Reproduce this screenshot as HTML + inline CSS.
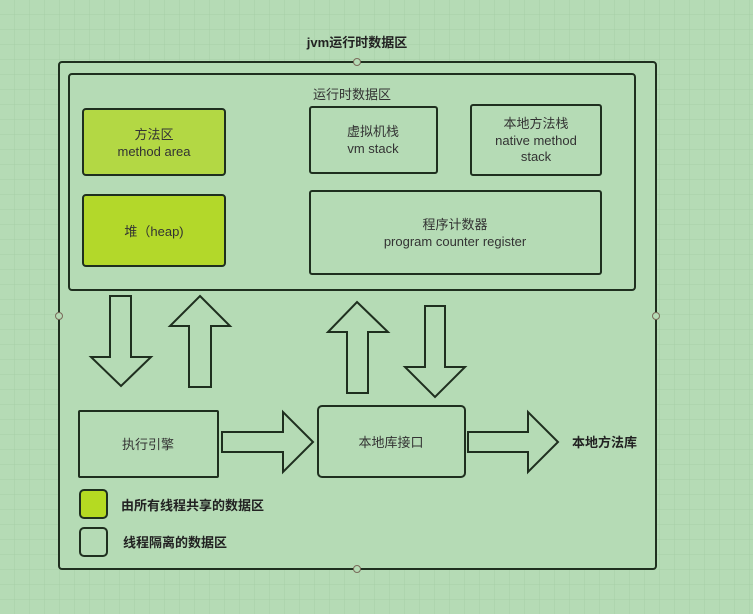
<!DOCTYPE html>
<html><head><meta charset="utf-8"><style>
html,body{margin:0;padding:0;width:753px;height:614px;overflow:hidden;background:#b5dbb5;}
svg{display:block}
text{font-family:"Liberation Sans","Noto Sans CJK SC",sans-serif;font-size:13px;fill:#333;}
.b{font-weight:bold;fill:#222;}
</style></head><body>
<svg width="753" height="614" viewBox="0 0 753 614">
<defs><pattern id="g" width="15" height="15" patternUnits="userSpaceOnUse"><path d="M15 0V15H0" fill="none" stroke="#a6cfa6" stroke-width="1"/></pattern></defs>
<rect width="753" height="614" fill="#b5dbb5"/>
<rect width="753" height="614" fill="url(#g)"/>
<g stroke="#1f2f1f" stroke-width="2" fill="#b5dbb5">
<rect x="59" y="62" width="597" height="507" rx="3"/>
<rect x="69" y="74" width="566" height="216" rx="3"/>
<rect x="83" y="109" width="142" height="66" rx="3" fill="#b3d844"/>
<rect x="83" y="195" width="142" height="71" rx="3" fill="#b3d82a"/>
<rect x="310" y="107" width="127" height="66" rx="2"/>
<rect x="471" y="105" width="130" height="70" rx="2"/>
<rect x="310" y="191" width="291" height="83" rx="2"/>
<rect x="79" y="411" width="139" height="66" rx="1"/>
<rect x="318" y="406" width="147" height="71" rx="4"/>
<rect x="80" y="490" width="27" height="28" rx="4" fill="#b5da22"/>
<rect x="80" y="528" width="27" height="28" rx="4"/>
<path d="M110 296H131V357H151L121 386L91 357H110Z"/>
<path d="M200 296L230 326H211V387H189V326H170Z"/>
<path d="M357 302L388 332H368V393H347V332H328Z"/>
<path d="M425 306H445V367H465L435 397L405 367H425Z"/>
<path d="M222 432H283V412L313 442L283 472V452H222Z"/>
<path d="M468 432H528V412L558 442L528 472V452H468Z"/>
</g>
<g fill="#b5dbb5" stroke="#7a6a5a" stroke-width="1">
<circle cx="59" cy="316" r="3.5"/><circle cx="656" cy="316" r="3.5"/>
<circle cx="357" cy="62" r="3.5"/><circle cx="357" cy="569" r="3.5"/>
</g>
<text class="b" x="357" y="47" text-anchor="middle">jvm运行时数据区</text>
<text x="352" y="99" text-anchor="middle">运行时数据区</text>
<text x="154" y="139" text-anchor="middle">方法区</text>
<text x="154" y="156" text-anchor="middle">method area</text>
<text x="154" y="236" text-anchor="middle">堆（heap)</text>
<text x="373" y="136" text-anchor="middle">虚拟机栈</text>
<text x="373" y="153" text-anchor="middle">vm stack</text>
<text x="536" y="128" text-anchor="middle">本地方法栈</text>
<text x="536" y="145" text-anchor="middle">native method</text>
<text x="536" y="161" text-anchor="middle">stack</text>
<text x="455" y="229" text-anchor="middle">程序计数器</text>
<text x="455" y="246" text-anchor="middle">program counter register</text>
<text x="148" y="449" text-anchor="middle">执行引擎</text>
<text x="391" y="447" text-anchor="middle">本地库接口</text>
<text class="b" x="572" y="447">本地方法库</text>
<text class="b" x="121" y="510">由所有线程共享的数据区</text>
<text class="b" x="123" y="547">线程隔离的数据区</text>
</svg>
</body></html>
